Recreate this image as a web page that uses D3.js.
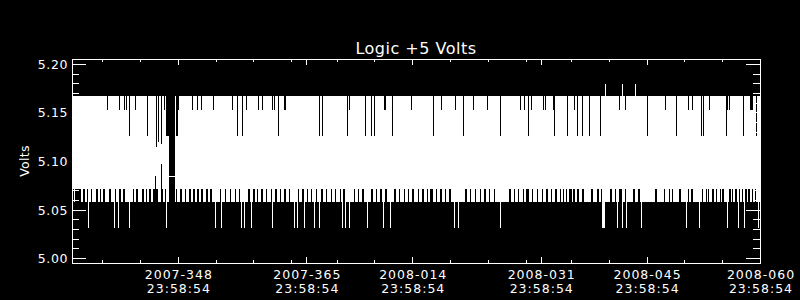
<!DOCTYPE html>
<html>
<head>
<meta charset="utf-8">
<script src="https://cdn.jsdelivr.net/npm/d3@7"></script>
<style>
  body { margin: 0; background: #000; }
  svg { display: block; background: #000; color: #fff; }
  text { fill: #fff; font-family: "DejaVu Sans", sans-serif; }
</style>
</head>
<body>
<svg id="chart" width="800" height="300"></svg>
<script>
var title = "Logic +5 Volts",
    yLabel = "Volts";

// axis: day-of-year labels, all at the same time of day
var tickTime = "23:58:54",
    plotStart = "2007-334",
    plotEnd = "2008-060";
var majorDays = ["2007-348", "2007-365", "2008-014", "2008-031", "2008-045", "2008-060"];
var minorDays = ["2007-338", "2007-343", "2007-348", "2007-353", "2007-358", "2007-363",
                 "2008-004", "2008-009", "2008-014", "2008-019", "2008-024", "2008-029",
                 "2008-035", "2008-040", "2008-045", "2008-050", "2008-055", "2008-060"];
var yMajor = [5.00, 5.05, 5.10, 5.15, 5.20];
var yMinor = [5.00, 5.01, 5.02, 5.03, 5.04, 5.05, 5.06, 5.07, 5.08, 5.09, 5.10,
              5.11, 5.12, 5.13, 5.14, 5.15, 5.16, 5.17, 5.18, 5.19, 5.20];

// data times are day-of-year of 2007 at 23:58:54 (366 = 2008-001)
var dataStart = 334.0, dataEnd = 424.95;
// the readings flip between two levels all the time
var highLevel = 5.167, lowLevel = 5.058;
// upper envelope drops: [day, volts]
var highDips = [[338.73,5.153],[340.32,5.153],[340.94,5.153],[341.17,5.153],[341.61,5.126],[342.44,5.153],
  [344.03,5.126],[345.14,5.114],[345.48,5.12],[345.88,5.117],[346.28,5.153],[346.50,5.126],[346.62,5.126],
  [346.74,5.126],[347.62,5.126],[347.76,5.126],[347.90,5.126],[348.02,5.126],[348.13,5.153],[349.99,5.153],
  [350.65,5.153],[351.18,5.153],[352.77,5.153],[355.28,5.153],[355.90,5.126],[356.50,5.126],[357.03,5.153],
  [358.64,5.153],[359.25,5.153],[360.58,5.153],[360.84,5.153],[361.37,5.126],[362.09,5.153],[362.19,5.153],
  [366.80,5.126],[367.16,5.126],[370.50,5.126],[370.77,5.153],[372.76,5.126],[373.55,5.126],[373.95,5.126],
  [375.27,5.153],[375.50,5.153],[376.33,5.126],[378.84,5.153],[381.76,5.126],[382.82,5.153],[384.67,5.153],
  [385.73,5.126],[387.05,5.153],[388.91,5.153],[390.63,5.126],[393.27,5.153],[393.90,5.153],[394.33,5.126],
  [394.78,5.153],[396.37,5.153],[396.64,5.153],[397.64,5.153],[397.83,5.126],[399.50,5.126],[400.42,5.153],
  [400.82,5.126],[401.48,5.126],[402.41,5.126],[403.86,5.126],[406.38,5.153],[407.17,5.153],[410.09,5.126],
  [412.47,5.153],[413.93,5.126],[415.51,5.153],[416.04,5.153],[417.29,5.126],[417.50,5.126],[418.29,5.153],
  [420.54,5.126],[420.73,5.153],[420.94,5.153],[422.80,5.126],[423.68,5.153],[423.81,5.153],[423.95,5.153],
  [424.52,5.126]];
// upper envelope peaks
var peakLevel = 5.179;
var highPeaks = [404.53, 406.78, 408.50];
// lower envelope spikes
var spikeLevel = 5.031;
var lowSpikes = [336.22, 339.66, 340.19, 341.65, 346.54, 353.03, 353.82, 356.47, 356.87, 357.72, 360.58,
  363.45, 363.89, 364.77, 366.10, 366.76, 369.84, 370.20, 370.64, 373.15, 375.14, 376.16, 384.54, 385.16,
  390.68, 404.22, 404.35, 404.49, 406.11, 406.87, 407.40, 409.39, 415.34, 417.06, 420.64, 422.13, 422.89,
  424.78];
// lower envelope raised: [day, volts]
var raisedLows = [[345.05, 5.085], [345.85, 5.097]];
// spans where the lower envelope stays at the next step up
var bandLevel = 5.071;
var bandGaps = [[334.00,334.20],[334.40,335.21],[335.52,335.69],[335.95,336.14],[336.54,336.67],[337.20,337.41],
  [337.73,337.86],[338.16,338.30],[338.96,339.18],[339.62,339.85],[340.28,340.51],[340.81,341.07],[341.51,341.70],
  [342.04,342.23],[342.49,342.70],[343.29,343.50],[343.82,343.95],[344.25,344.48],[344.69,344.92],[345.14,345.35],
  [345.80,346.01],[346.24,346.46],
  [347.79,347.92],[348.23,348.49],[348.93,349.11],[349.46,349.68],[349.99,350.21],[350.52,350.78],[351.10,351.31],
  [351.76,351.97],[352.29,352.46],[353.52,353.79],[354.18,354.41],[354.84,355.07],[355.51,355.73],[356.08,356.26],
  [356.70,356.92],[357.27,357.49],[357.93,358.15],[358.46,358.64],
  [359.00,359.20],[359.60,359.80],[360.30,360.40],[360.80,361.10],[361.50,361.60],[362.00,362.30],[362.70,362.80],
  [363.30,363.50],[363.90,364.00],[364.40,364.70],[365.10,365.20],[365.60,365.80],[366.30,366.40],[366.90,367.20],
  [367.60,367.70],[368.20,368.40],[368.80,368.90],[369.40,369.50],[369.90,370.10],[370.60,370.80],[371.30,371.40],
  [371.80,372.00],[372.30,372.60],[373.00,373.10],[373.60,373.80],[374.20,374.30],[374.80,375.00],[375.40,375.60],
  [376.10,376.20],[376.60,376.90],[377.30,377.40],[377.90,378.10],[378.50,378.60],[379.00,379.30],[379.70,379.80],
  [380.30,380.50],[380.90,381.00],[381.40,381.70],[382.10,382.20],[382.70,382.90],[383.30,383.40],[383.80,384.10],
  [384.50,384.60],[386.00,386.30],[386.70,386.80],[387.30,387.50],[387.90,388.00],[388.50,388.80],[389.20,389.30],
  [389.80,390.00],[391.80,392.00],[392.40,392.60],[393.00,393.10],[393.60,393.80],[394.10,394.40],[394.90,395.00],
  [395.50,395.70],[396.10,396.20],[396.70,396.90],[397.30,397.40],[397.90,398.10],
  [398.53,398.66],[398.89,399.06],[399.32,399.50],[399.76,400.08],[400.29,400.52],[400.82,401.01],[401.40,401.71],
  [402.59,402.86],[403.47,403.73],[404.00,404.09],[405.15,405.45],[405.81,405.94],[406.34,406.74],[407.13,407.44],
  [408.23,408.46],[408.82,409.13],[411.11,411.33],[412.30,412.47],[412.96,413.09],[413.36,413.53],[414.24,414.51],
  [415.51,415.65],[415.87,416.14],[416.97,417.06],[417.29,417.50],[417.82,417.95],[418.08,418.25],[418.61,418.88],
  [419.18,419.35],[419.71,419.88],[420.01,420.28],[420.94,421.13],[421.26,421.47],[421.74,421.92],[422.22,422.36],
  [422.58,422.72],[423.02,423.24],[423.46,423.68],[423.91,424.12],[424.34,424.48]];
// no readings here, only one flat stretch
var dataGap = [346.77, 347.56],
    gapLevel = 5.085;

var svg = d3.select("#chart"),
    margin = {top: 59, left: 72, right: 40, bottom: 37},
    width = 800 - margin.left - margin.right,
    height = 300 - margin.top - margin.bottom;

var parseDay = d3.utcParse("%Y-%j %H:%M:%S"),
    fmtDay = d3.utcFormat("%Y-%j"),
    fmtTime = d3.utcFormat("%H:%M:%S");
function tickDate(s) { return parseDay(s + " " + tickTime); }
var yearStart = tickDate("2007-001");
function dayDate(t) { return new Date(+yearStart + (t - 1) * 864e5); }

var x = d3.scaleUtc()
    .domain([tickDate(plotStart), tickDate(plotEnd)])
    .range([margin.left, margin.left + width]);
var y = d3.scaleLinear()
    .domain([4.995, 5.205])
    .range([margin.top + height, margin.top]);

// one min/max bin per screen column
var step = (x.invert(margin.left + 1) - x.invert(margin.left)) / 864e5;
var nBins = Math.round((dataEnd - dataStart) / step);
var bins = d3.range(nBins).map(function (i) {
    return {t0: dataStart + i * step, t1: dataStart + (i + 1) * step, hi: highLevel, lo: lowLevel, gap: false};
});
function binAt(t) { return Math.max(0, Math.min(nBins - 1, Math.floor((t - dataStart) / step))); }
function binSpan(a, b, fn) {
    var i0 = Math.round((a - dataStart) / step),
        i1 = Math.max(i0, Math.round((b - dataStart) / step) - 1);
    for (var i = Math.max(0, i0); i <= Math.min(nBins - 1, i1); i++) fn(bins[i]);
}
bandGaps.forEach(function (g) { binSpan(g[0], g[1], function (b) { b.lo = bandLevel; }); });
raisedLows.forEach(function (p) { bins[binAt(p[0])].lo = p[1]; });
lowSpikes.forEach(function (t) { bins[binAt(t)].lo = spikeLevel; });
highDips.forEach(function (p) { var b = bins[binAt(p[0])]; b.hi = Math.min(b.hi, p[1]); });
highPeaks.forEach(function (t) { bins[binAt(t)].hi = peakLevel; });
binSpan(dataGap[0], dataGap[1], function (b) { b.gap = true; });

svg.append("g")
    .selectAll("rect")
    .data(bins.filter(function (b) { return !b.gap; }))
    .enter()
    .append("rect")
    .attr("x", function (d) { return x(dayDate(d.t0)); })
    .attr("width", function (d) { return x(dayDate(d.t1)) - x(dayDate(d.t0)); })
    .attr("y", function (d) { return y(d.hi); })
    .attr("height", function (d) { return y(d.lo) - y(d.hi); })
    .attr("fill", "#fff")
    .attr("shape-rendering", "crispEdges");

var gapLine = d3.line()
    .x(function (d) { return x(dayDate(d)); })
    .y(function () { return y(gapLevel) + 0.5; });
svg.append("path")
    .attr("d", gapLine(dataGap))
    .attr("fill", "none")
    .attr("stroke", "#fff")
    .attr("shape-rendering", "crispEdges");

// frame and ticks
svg.append("rect")
    .attr("x", margin.left + 0.5)
    .attr("y", margin.top + 0.5)
    .attr("width", width)
    .attr("height", height)
    .attr("fill", "none")
    .attr("stroke", "#fff")
    .attr("shape-rendering", "crispEdges");

function tickAxis(axis, values, size) {
    return axis.tickValues(values).tickSize(size).tickSizeOuter(0).tickFormat("");
}
function addAxis(axis, tx, ty) {
    var g = svg.append("g").attr("transform", "translate(" + tx + "," + ty + ")").call(axis);
    g.select(".domain").remove();
    g.selectAll("line").attr("shape-rendering", "crispEdges");
}
var majorDates = majorDays.map(tickDate),
    minorDates = minorDays.map(tickDate);
addAxis(tickAxis(d3.axisBottom(x), majorDates, -6), 0, margin.top + height);
addAxis(tickAxis(d3.axisBottom(x), minorDates, -3), 0, margin.top + height);
addAxis(tickAxis(d3.axisTop(x), majorDates, -6), 0, margin.top);
addAxis(tickAxis(d3.axisTop(x), minorDates, -3), 0, margin.top);
addAxis(tickAxis(d3.axisLeft(y), yMajor, -14), margin.left, 0);
addAxis(tickAxis(d3.axisLeft(y), yMinor, -7), margin.left, 0);
addAxis(tickAxis(d3.axisRight(y), yMajor, -14), margin.left + width, 0);
addAxis(tickAxis(d3.axisRight(y), yMinor, -7), margin.left + width, 0);

// labels
var xl = svg.append("g")
    .selectAll("text")
    .data(majorDates)
    .enter()
    .append("text")
    .attr("text-anchor", "middle")
    .style("font-size", "12.5px")
    .style("letter-spacing", "1px");
xl.append("tspan")
    .attr("x", function (d) { return x(d) + 1; })
    .attr("y", 278.5)
    .text(fmtDay);
xl.append("tspan")
    .attr("x", function (d) { return x(d) + 1; })
    .attr("y", 292.7)
    .text(fmtTime);

svg.append("g")
    .selectAll("text")
    .data(yMajor)
    .enter()
    .append("text")
    .attr("text-anchor", "end")
    .attr("x", 68)
    .attr("y", function (d) { return y(d) + 5; })
    .style("font-size", "12.5px")
    .style("letter-spacing", "0.6px")
    .text(d3.format(".2f"));

svg.append("text")
    .attr("transform", "translate(28.5," + (margin.top + height / 2) + ") rotate(-90)")
    .attr("text-anchor", "middle")
    .style("font-size", "12.5px")
    .style("letter-spacing", "0.3px")
    .text(yLabel);

svg.append("text")
    .attr("x", margin.left + width / 2)
    .attr("y", 53.5)
    .attr("text-anchor", "middle")
    .style("font-size", "16px")
    .style("letter-spacing", "0.5px")
    .text(title);
</script>
</body>
</html>
